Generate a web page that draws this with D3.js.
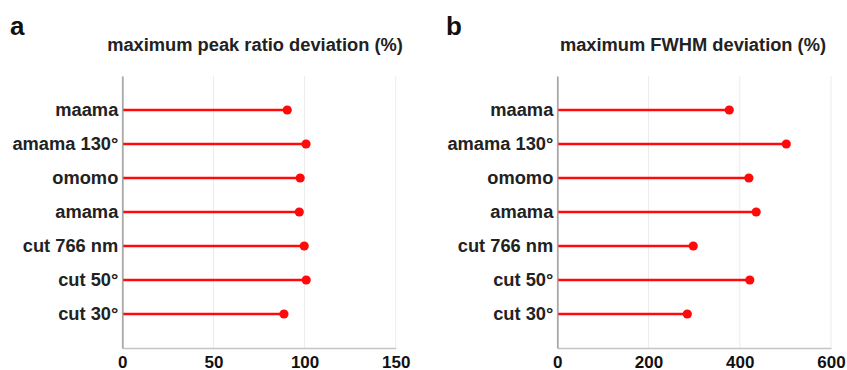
<!DOCTYPE html>
<html>
<head>
<meta charset="utf-8">
<script src="https://cdn.jsdelivr.net/npm/d3@7"></script>
<style>
  html, body { margin: 0; padding: 0; background: #fff; }
  svg { display: block; font-family: "Liberation Sans", Arial, sans-serif; }
</style>
</head>
<body>
<svg id="chart" width="847" height="370"></svg>
<script>
// Categories, top to bottom
const categories = ["maama", "amama 130°", "omomo", "amama", "cut 766 nm", "cut 50°", "cut 30°"];

// Panel a: maximum peak ratio deviation (%)
const peakRatioDeviation = [90.5, 100.8, 97.6, 97.1, 99.8, 100.9, 88.7];
const peakTicks = [0, 50, 100, 150];

// Panel b: maximum FWHM deviation (%)
const fwhmDeviation = [377, 502, 420, 436, 298, 422, 285];
const fwhmTicks = [0, 200, 400, 600];

const svg = d3.select("#chart");

const panels = [
  { letter: "a", title: "maximum peak ratio deviation (%)", values: peakRatioDeviation, ticks: peakTicks,
    x0: 122.3, x1: 395.7, letterX: 10, titleX: 255 },
  { letter: "b", title: "maximum FWHM deviation (%)", values: fwhmDeviation, ticks: fwhmTicks,
    x0: 557.3, x1: 831, letterX: 446, titleX: 693 }
];

const plotTop = 76, plotBottom = 348;

panels.forEach(p => {
  const domainMax = p.ticks[p.ticks.length - 1];
  const x = d3.scaleLinear().domain([0, domainMax]).range([p.x0, p.x1]);
  const y = d3.scalePoint().domain(categories).range([plotTop, plotBottom]).padding(1);

  const g = svg.append("g");

  // panel letter
  g.append("text")
    .attr("x", p.letterX).attr("y", 35)
    .attr("font-size", 26).attr("font-weight", "bold").attr("fill", "#111")
    .text(p.letter);

  // panel title
  g.append("text")
    .attr("x", p.titleX).attr("y", 51)
    .attr("text-anchor", "middle")
    .attr("font-size", 18.3).attr("font-weight", "bold").attr("fill", "#222")
    .text(p.title);

  // vertical grid lines
  g.selectAll("line.grid").data(p.ticks.slice(1)).join("line")
    .attr("class", "grid")
    .attr("x1", d => x(d)).attr("x2", d => x(d))
    .attr("y1", plotTop).attr("y2", plotBottom)
    .attr("stroke", "#ececec").attr("stroke-width", 1);

  // bottom axis with tick labels
  const xAxis = d3.axisBottom(x).tickValues(p.ticks).tickSize(0).tickPadding(8);
  const ax = g.append("g").attr("transform", `translate(0,${plotBottom})`).call(xAxis);
  ax.select(".domain").attr("stroke", "#c4c4c4").attr("stroke-width", 1.5);
  ax.selectAll("text")
    .attr("font-size", 17).attr("font-weight", "bold").attr("fill", "#111")
    .attr("font-family", "Liberation Sans, Arial, sans-serif");

  // left axis with category labels
  const yAxis = d3.axisLeft(y).tickSize(0).tickPadding(4);
  const ay = g.append("g").attr("transform", `translate(${p.x0},0)`).call(yAxis);
  ay.select(".domain").attr("stroke", "#a8a8a8").attr("stroke-width", 1.8);
  ay.selectAll("text")
    .attr("font-size", 18.3).attr("font-weight", "bold").attr("fill", "#222")
    .attr("font-family", "Liberation Sans, Arial, sans-serif");

  const rows = categories.map((c, i) => ({ c, v: p.values[i] }));

  // stems
  g.selectAll("line.stem").data(rows).join("line")
    .attr("class", "stem")
    .attr("x1", x(0) + 1).attr("x2", d => x(d.v))
    .attr("y1", d => y(d.c)).attr("y2", d => y(d.c))
    .attr("stroke", "#ff0a0a").attr("stroke-width", 2.6);

  // dots
  g.selectAll("circle.dot").data(rows).join("circle")
    .attr("class", "dot")
    .attr("cx", d => x(d.v)).attr("cy", d => y(d.c))
    .attr("r", 4.6).attr("fill", "#ff0a0a");
});
</script>
</body>
</html>
